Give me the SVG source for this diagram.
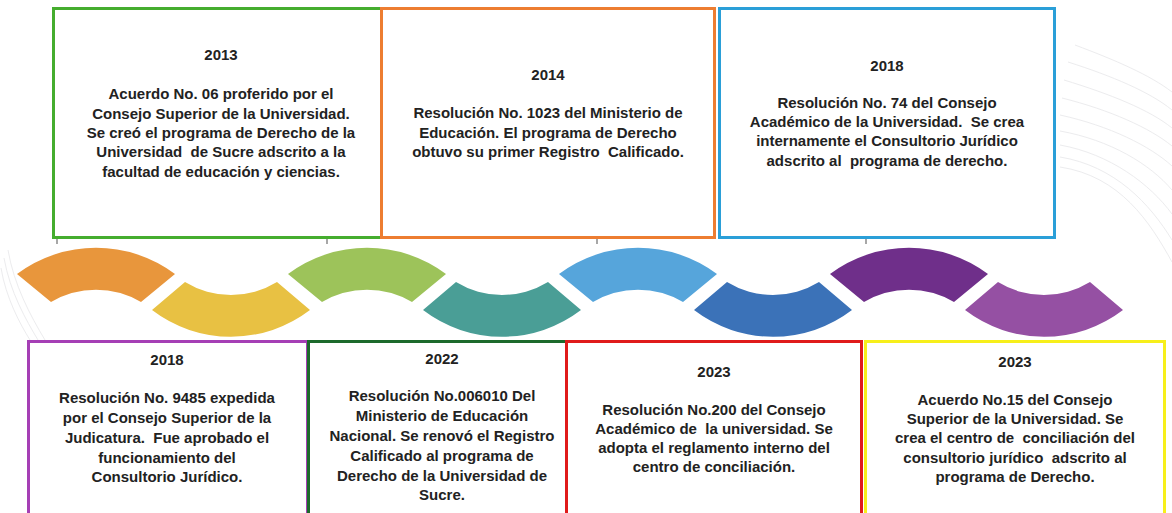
<svg xmlns="http://www.w3.org/2000/svg" width="1172" height="513" viewBox="0 0 1172 513">
<style>
.box{fill:#ffffff;stroke-width:3}
.t{font-family:"Liberation Sans",Arial,sans-serif;font-weight:bold;font-size:15px;fill:#222222;text-anchor:middle;white-space:pre}
.deco{fill:none;stroke:#ececee;stroke-width:1}
.tick{stroke:#8a8a8a;stroke-width:1.5}
</style>
<rect width="1172" height="513" fill="#ffffff"/>
<g id="decoration">
<path class="deco" d="M1075 45 C1115 60 1150 75 1172 92"/>
<path class="deco" d="M1068 62 C1112 76 1150 92 1172 110"/>
<path class="deco" d="M1064 80 C1110 94 1150 110 1172 128"/>
<path class="deco" d="M1062 98 C1110 110 1150 128 1172 146"/>
<path class="deco" d="M1060 115 C1110 126 1150 146 1172 166"/>
<path class="deco" d="M1060 131 C1110 140 1150 164 1172 190"/>
<path class="deco" d="M1060 145 C1110 154 1150 184 1172 214"/>
<path class="deco" d="M1060 157 C1115 166 1150 204 1172 240"/>
<path class="deco" d="M1060 167 C1120 176 1150 222 1172 262"/>
<path class="deco" d="M8 250 C14 285 30 315 45 340"/>
<path class="deco" d="M4 258 C10 292 26 320 38 340"/>
<path class="deco" d="M1 268 C6 298 20 324 30 340"/>
</g>
<g id="waves">
<path id="w1" fill="#E8963C" d="M17 274 A132 132 0 0 1 175 274 L141 302 A89 89 0 0 0 51 302 Z"/>
<path id="w2" fill="#E8C143" d="M152 310 A130 130 0 0 0 310 310 L277 282 A88 88 0 0 1 185 282 Z"/>
<path id="w3" fill="#9DC35A" d="M288 274 A132 132 0 0 1 446 274 L412 302 A89 89 0 0 0 322 302 Z"/>
<path id="w4" fill="#4A9E96" d="M423 310 A130 130 0 0 0 581 310 L548 282 A88 88 0 0 1 456 282 Z"/>
<path id="w5" fill="#56A5DB" d="M559 274 A132 132 0 0 1 717 274 L683 302 A89 89 0 0 0 593 302 Z"/>
<path id="w6" fill="#3B72B8" d="M694 310 A130 130 0 0 0 852 310 L819 282 A88 88 0 0 1 727 282 Z"/>
<path id="w7" fill="#6F2F8A" d="M830 274 A132 132 0 0 1 988 274 L954 302 A89 89 0 0 0 864 302 Z"/>
<path id="w8" fill="#9550A3" d="M965 310 A130 130 0 0 0 1123 310 L1090 282 A88 88 0 0 1 998 282 Z"/>
</g>
<g id="connectors">
<line class="tick" x1="57" y1="238" x2="57" y2="244"/>
<line class="tick" x1="327" y1="238" x2="327" y2="244"/>
<line class="tick" x1="597" y1="238" x2="597" y2="244"/>
<line class="tick" x1="866" y1="238" x2="866" y2="244"/>
</g>
<g id="n2013">
<rect class="box" x="53.5" y="8.5" width="328" height="229" stroke="#45AD2E"/>
<text class="t" x="221" y="60">2013</text>
<text class="t" x="221" y="99">Acuerdo No. 06 proferido por el</text>
<text class="t" x="221" y="119">Consejo Superior de la Universidad.</text>
<text class="t" x="221" y="138">Se creó el programa de Derecho de la</text>
<text class="t" x="221" y="157">Universidad  de Sucre adscrito a la</text>
<text class="t" x="221" y="177">facultad de educación y ciencias.</text>
</g>
<g id="n2014">
<rect class="box" x="381.5" y="8.5" width="333" height="229" stroke="#ED7D31"/>
<text class="t" x="548" y="80">2014</text>
<text class="t" x="548" y="118">Resolución No. 1023 del Ministerio de</text>
<text class="t" x="548" y="138">Educación. El programa de Derecho</text>
<text class="t" x="548" y="157">obtuvo su primer Registro  Calificado.</text>
</g>
<g id="n2018a">
<rect class="box" x="719.5" y="8.5" width="335" height="229" stroke="#2A9FD8"/>
<text class="t" x="887" y="71">2018</text>
<text class="t" x="887" y="108">Resolución No. 74 del Consejo</text>
<text class="t" x="887" y="127">Académico de la Universidad.  Se crea</text>
<text class="t" x="887" y="146">internamente el Consultorio Jurídico</text>
<text class="t" x="887" y="166">adscrito al  programa de derecho.</text>
</g>
<g id="n2018b">
<rect class="box" x="28.5" y="341.5" width="279" height="180" stroke="#A53FB5"/>
<text class="t" x="167" y="365">2018</text>
<text class="t" x="167" y="403">Resolución No. 9485 expedida</text>
<text class="t" x="167" y="423">por el Consejo Superior de la</text>
<text class="t" x="167" y="443">Judicatura.  Fue aprobado el</text>
<text class="t" x="167" y="463">funcionamiento del</text>
<text class="t" x="167" y="482">Consultorio Jurídico.</text>
</g>
<g id="n2022">
<rect class="box" x="308.5" y="341.5" width="258" height="180" stroke="#1C6A2C"/>
<text class="t" x="442" y="364">2022</text>
<text class="t" x="442" y="401">Resolución No.006010 Del</text>
<text class="t" x="442" y="421">Ministerio de Educación</text>
<text class="t" x="442" y="441">Nacional. Se renovó el Registro</text>
<text class="t" x="442" y="461">Calificado al programa de</text>
<text class="t" x="442" y="481">Derecho de la Universidad de</text>
<text class="t" x="442" y="500">Sucre.</text>
</g>
<g id="n2023a">
<rect class="box" x="566.5" y="341.5" width="295" height="180" stroke="#E01B1B"/>
<text class="t" x="714" y="377">2023</text>
<text class="t" x="714" y="415">Resolución No.200 del Consejo</text>
<text class="t" x="714" y="434">Académico de  la universidad. Se</text>
<text class="t" x="714" y="453">adopta el reglamento interno del</text>
<text class="t" x="714" y="472">centro de conciliación.</text>
</g>
<g id="n2023b">
<rect class="box" x="865.5" y="341.5" width="299" height="180" stroke="#F7EF1A"/>
<text class="t" x="1015" y="367">2023</text>
<text class="t" x="1015" y="405">Acuerdo No.15 del Consejo</text>
<text class="t" x="1015" y="424">Superior de la Universidad. Se</text>
<text class="t" x="1015" y="443">crea el centro de  conciliación del</text>
<text class="t" x="1015" y="463">consultorio jurídico  adscrito al</text>
<text class="t" x="1015" y="482">programa de Derecho.</text>
</g>
</svg>
